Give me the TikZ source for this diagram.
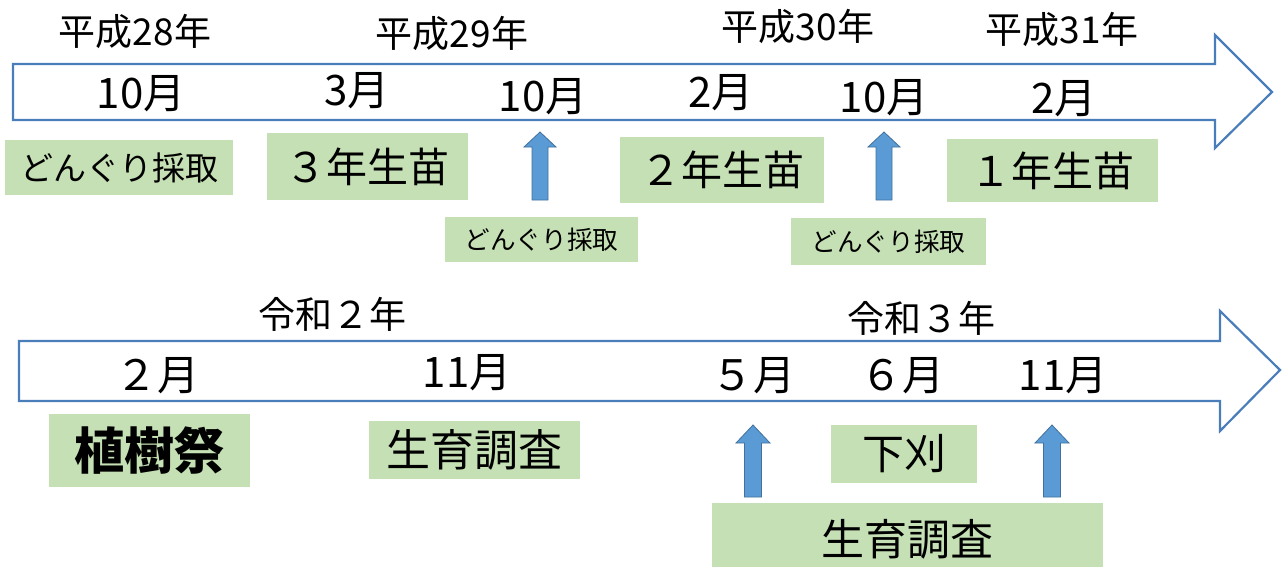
\documentclass[tikz,border=0pt]{standalone}
\usepackage{fontspec}
\setmainfont{Noto Sans CJK JP}
\definecolor{tlline}{HTML}{4A7EBB}
\definecolor{boxgreen}{HTML}{C5E0B4}
\definecolor{upfill}{HTML}{5B9BD5}
\definecolor{upline}{HTML}{41719C}
\tikzset{
  timeline/.style={draw=tlline, line width=1.1pt, fill=white, line join=miter},
  yearlbl/.style={inner sep=0pt, font=\fontsize{18.5}{20}\selectfont},
  monthlbl/.style={inner sep=0pt, font=\fontsize{21}{23}\selectfont},
  gbox/.style 2 args={fill=boxgreen, inner sep=0pt, align=center,
     minimum width=#1*0.5pt, minimum height=#2*0.5pt},
  uparr/.pic={\filldraw[fill=upfill, draw=upline, line width=0.4pt]
     (-8,0) -- (-8,-53) -- (-16,-53) -- (0,-68) -- (16,-53) -- (8,-53) -- (8,0) -- cycle;},
  uparrb/.pic={\filldraw[fill=upfill, draw=upline, line width=0.4pt]
     (-8.5,0) -- (-8.5,-54) -- (-17,-54) -- (0,-72) -- (17,-54) -- (8.5,-54) -- (8.5,0) -- cycle;}
}
\begin{document}
\begin{tikzpicture}[x=0.5pt, y=-0.5pt]
\useasboundingbox (0,0) rectangle (1284,567);
% timelines
\draw[timeline] (13,64) -- (1215,64) -- (1215,35) -- (1272,92) -- (1215,148) -- (1215,120) -- (13,120) -- cycle;
\draw[timeline] (19,341) -- (1220,341) -- (1220,311) -- (1280,370) -- (1220,431) -- (1220,401) -- (19,401) -- cycle;
% year labels
\node[yearlbl] (y28) at (135,31) {平成28年};
\node[yearlbl] (y29) at (452,33) {平成29年};
\node[yearlbl] (y30) at (798,26) {平成30年};
\node[yearlbl] (y31) at (1062,29) {平成31年};
\node[yearlbl] (r2) at (332,314) {令和２年};
\node[yearlbl] (r3) at (921,318) {令和３年};
% months top
\node[monthlbl] (m1) at (141,94) {10月};
\node[monthlbl] (m2) at (357,91) {3月};
\node[monthlbl] (m3) at (543,97) {10月};
\node[monthlbl] (m4) at (721,93) {2月};
\node[monthlbl] (m5) at (884,98) {10月};
\node[monthlbl] (m6) at (1064,99) {2月};
% months bottom
\node[monthlbl] (n1) at (157,376) {２月};
\node[monthlbl] (n2) at (467,373) {11月};
\node[monthlbl] (n3) at (753,376) {５月};
\node[monthlbl] (n4) at (902,376) {６月};
\node[monthlbl] (n5) at (1063,376) {11月};
% green boxes top
\node[gbox={228}{55}, font=\fontsize{16.5}{18}\selectfont] (b1) at (119,167.5) {どんぐり採取};
\node[gbox={201}{67}, font=\fontsize{20.5}{22}\selectfont] (b2) at (367.5,166.5) {３年生苗};
\node[gbox={193}{45}, font=\fontsize{12.8}{14}\selectfont] (b3) at (541.5,239.5) {どんぐり採取};
\node[gbox={204}{66}, font=\fontsize{20.5}{22}\selectfont] (b4) at (722,170) {２年生苗};
\node[gbox={195}{47}, font=\fontsize{12.8}{14}\selectfont] (b5) at (888.5,241.5) {どんぐり採取};
\node[gbox={211}{63}, font=\fontsize{20.5}{22}\selectfont] (b6) at (1052.5,170.5) {１年生苗};
% green boxes bottom
\node[gbox={201}{73}, font=\fontsize{25}{27}\selectfont\bfseries] (c1) at (149.5,450.5) {植樹祭};
\node[gbox={211}{58}, font=\fontsize{22}{24}\selectfont] (c2) at (474.5,450) {生育調査};
\node[gbox={146}{58}, font=\fontsize{21}{23}\selectfont] (c3) at (904,454) {下刈};
\node[gbox={391}{72}, font=\fontsize{21.5}{23}\selectfont] (c4) at (907.5,539) {生育調査};
% up arrows
\path (540,200) pic {uparr};
\path (884,200) pic {uparr};
\path (753,497) pic {uparrb};
\path (1052,497) pic {uparrb};
\end{tikzpicture}
\end{document}
